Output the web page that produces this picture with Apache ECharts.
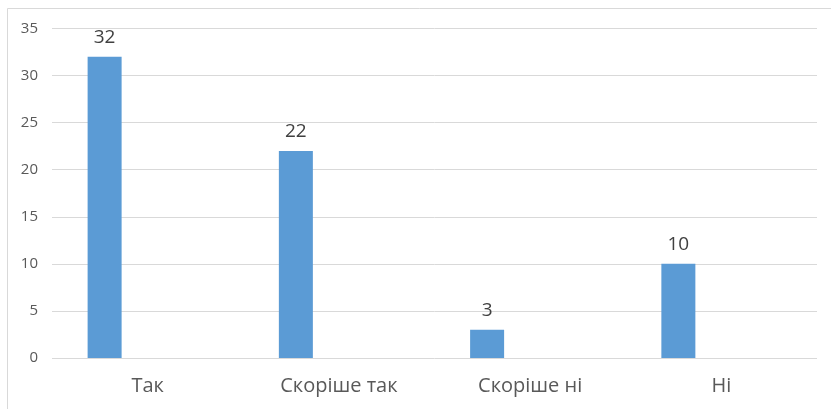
<!DOCTYPE html>
<html><head><meta charset="utf-8">
<script src="https://cdn.jsdelivr.net/npm/echarts@6/dist/echarts.min.js"></script>
<style>html,body{margin:0;padding:0;background:#fff}#c{width:831px;height:409px}</style>
</head><body><div id="c"></div>
<script>
const categories = ['Так', 'Скоріше так', 'Скоріше ні', 'Ні'];
const values = [32, 22, 3, 10];
const emptySeries = [null, null, null, null];
const yMin = 0, yMax = 35, yStep = 5;

const chart = echarts.init(document.getElementById('c'), null, {renderer: 'canvas'});
chart.setOption({
  animation: false,
  backgroundColor: '#fff',
  textStyle: {fontFamily: 'Open Sans, DejaVu Sans, sans-serif'},
  graphic: [
    {type: 'line', shape: {x1: 7.5, y1: 8.5, x2: 831, y2: 8.5}, style: {stroke: '#d9d9d9', lineWidth: 1}, silent: true},
    {type: 'line', shape: {x1: 7.5, y1: 8.5, x2: 7.5, y2: 409}, style: {stroke: '#d9d9d9', lineWidth: 1}, silent: true}
  ],
  grid: {left: 52, right: 14, top: 28.5, bottom: 51, containLabel: false},
  xAxis: {
    type: 'category', data: categories,
    axisLine: {show: false}, axisTick: {show: false},
    axisLabel: {color: '#595959', fontSize: 20, margin: 18}
  },
  yAxis: {
    type: 'value', min: yMin, max: yMax, interval: yStep,
    axisLine: {show: false}, axisTick: {show: false},
    axisLabel: {color: '#595959', fontSize: 15, margin: 14},
    splitLine: {lineStyle: {color: '#d9d9d9', width: 1}}
  },
  series: [
    {type: 'bar', data: values, barWidth: 34, barGap: '153%',
     itemStyle: {color: '#5b9bd5'},
     label: {show: true, position: 'top', distance: 10, color: '#404040', fontSize: 19}},
    {type: 'bar', data: emptySeries, barWidth: 34}
  ]
});
</script></body></html>
